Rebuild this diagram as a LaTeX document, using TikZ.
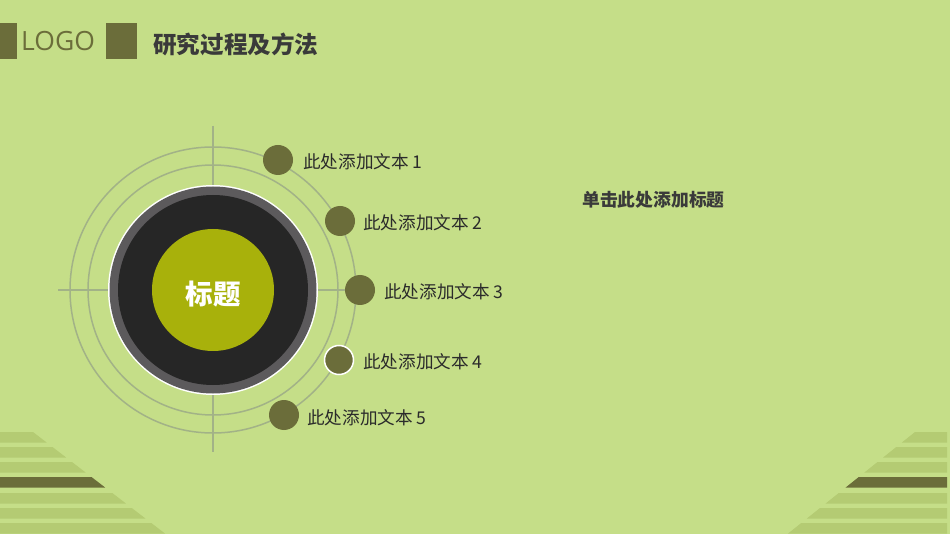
\documentclass[tikz,border=0pt]{standalone}
\usepackage{fontspec}
\newfontfamily\cjk{Noto Sans CJK SC}
\newfontfamily\logofont{Open Sans}
\definecolor{bg}{HTML}{C5DE88}
\definecolor{olive}{HTML}{6B6D3A}
\definecolor{stripe}{HTML}{B4CB73}
\definecolor{ringline}{HTML}{A2B287}
\definecolor{ringgray}{HTML}{5C5A5C}
\definecolor{core}{HTML}{262626}
\definecolor{center}{HTML}{A8B10B}
\definecolor{txt}{HTML}{2B2B2B}
\definecolor{titletxt}{HTML}{3A3A3A}
\tikzset{
  dot/.style={circle,fill=olive,minimum size=30pt,inner sep=0pt},
  lbl/.style={anchor=west,font=\cjk\fontsize{17.6}{17.6}\selectfont,text=txt,inner sep=0pt},
  guide/.style={draw=ringline,line width=1.5pt},
}
\begin{document}
\begin{tikzpicture}[x=1pt,y=-1pt]
\fill[bg] (0,0) rectangle (950,534);
\useasboundingbox (0,0) rectangle (950,534);
% header
\fill[olive] (0,23) rectangle (17,59);
\node[anchor=west,inner sep=0pt,text=olive,font=\logofont\fontsize{26.5}{26.5}\selectfont] (logo) at (21,41) {LOGO};
\fill[olive] (106,23) rectangle (137,59);
\node[anchor=west,inner sep=0pt,text=titletxt,font=\cjk\bfseries\fontsize{23.6}{23.6}\selectfont] (title) at (153,44) {研究过程及方法};
% left stripes
\foreach \y/\c in {432/stripe,447/stripe,462/stripe,477/olive,493/stripe,508/stripe,523/stripe}{
  \fill[\c] (0,\y) -- ({33+1.3*(\y-432)},\y) -- ({33+1.3*(\y+10.5-432)},\y+10.5) -- (0,\y+10.5) -- cycle;
}
% right stripes
\foreach \y/\c in {432/stripe,447/stripe,462/stripe,477/olive,493/stripe,508/stripe,523/stripe}{
  \fill[\c] (947,\y) -- ({915-1.25*(\y-432)},\y) -- ({915-1.25*(\y+10.5-432)},\y+10.5) -- (947,\y+10.5) -- cycle;
}
% guides
\coordinate (c) at (213,290);
\draw[guide] (213,126) -- (213,452);
\draw[guide] (58,290) -- (347,290);
\draw[guide] (c) circle[radius=143];
\draw[guide] (c) circle[radius=125];
% big circle
\fill[white] (c) circle[radius=105];
\fill[ringgray] (c) circle[radius=103.5];
\fill[core] (c) circle[radius=95];
\node[circle,fill=center,minimum size=122pt,inner sep=0pt] (hub) at (c) {};
\node[text=white,inner sep=0pt,font=\cjk\bfseries\fontsize{27.5}{27.5}\selectfont] (hubtext) at (213,294) {标题};
% dots
\node[dot] (d1) at (278,160) {};
\node[dot] (d2) at (340,221) {};
\node[dot] (d3) at (360,290) {};
\node[dot,draw=white,line width=1.5pt,minimum size=29pt] (d4) at (339,360) {};
\node[dot] (d5) at (284,415) {};
\node[lbl] (t1) at (303,162) {此处添加文本 1};
\node[lbl] (t2) at (363,223) {此处添加文本 2};
\node[lbl] (t3) at (384,292) {此处添加文本 3};
\node[lbl] (t4) at (363,362) {此处添加文本 4};
\node[lbl] (t5) at (307,418) {此处添加文本 5};
\node[anchor=west,inner sep=0pt,text=titletxt,font=\cjk\bfseries\fontsize{17.8}{17.8}\selectfont] (head) at (582,200) {单击此处添加标题};
\end{tikzpicture}
\end{document}
